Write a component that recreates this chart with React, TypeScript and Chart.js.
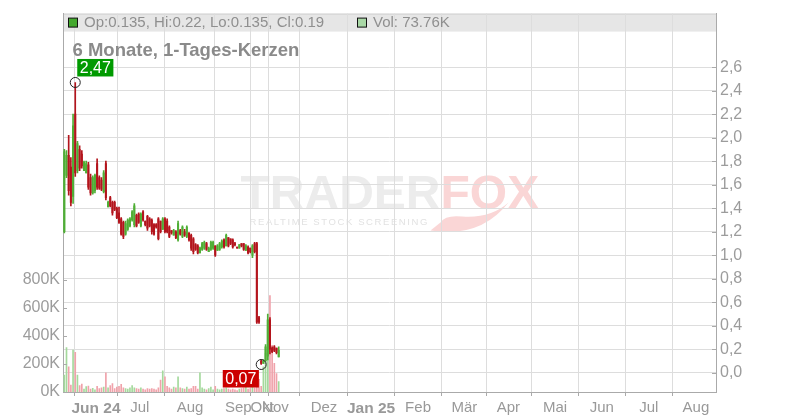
import React, { useEffect, useRef } from "react";
import { Chart, registerables } from "chart.js";

Chart.register(...registerables);

// ---- Data (trading-day index = position in arrays) ----
const OPEN = [
  1.20, 1.68, 1.85, 1.75, 1.50, 2.20, 1.72, 1.90, 1.86, 1.72,
  1.70, 1.77, 1.66, 1.53, 1.55, 1.78, 1.66, 1.64, 1.54, 1.78,
  1.41, 1.49, 1.45, 1.45, 1.40, 1.36, 1.31, 1.28, 1.18, 1.22,
  1.25, 1.30, 1.26, 1.34, 1.35, 1.25, 1.37, 1.29, 1.33, 1.31,
  1.30, 1.26, 1.26, 1.31, 1.29, 1.22, 1.31, 1.29, 1.24, 1.21,
  1.17, 1.20, 1.13, 1.21, 1.16, 1.20, 1.16, 1.19, 1.17, 1.14,
  1.09, 1.08, 1.02, 1.05, 1.06, 1.10, 1.03, 1.05, 1.06, 1.08,
  1.04, 1.05, 1.07, 1.13, 1.08, 1.15, 1.14, 1.13, 1.10, 1.07,
  1.06, 1.10, 1.10, 1.04, 1.07, 1.06, 1.00, 1.10, 1.10, 0.47,
  0.10, 0.08, 0.10, 0.14, 0.45, 0.21, 0.22, 0.21, 0.135,
];
const HIGH = [
  1.90, 1.89, 2.02, 1.83, 2.20, 2.47, 1.97, 1.93, 1.89, 1.80,
  1.80, 1.79, 1.69, 1.675, 1.69, 1.82, 1.675, 1.66, 1.72, 1.80,
  1.46, 1.50, 1.46, 1.46, 1.41, 1.41, 1.32, 1.29, 1.29, 1.31,
  1.32, 1.38, 1.44, 1.35, 1.36, 1.36, 1.38, 1.29, 1.34, 1.32,
  1.31, 1.27, 1.27, 1.32, 1.29, 1.32, 1.32, 1.31, 1.25, 1.21,
  1.22, 1.21, 1.29, 1.22, 1.25, 1.22, 1.25, 1.19, 1.18, 1.15,
  1.10, 1.09, 1.07, 1.11, 1.12, 1.11, 1.07, 1.12, 1.12, 1.08,
  1.09, 1.11, 1.13, 1.14, 1.18, 1.15, 1.14, 1.14, 1.11, 1.07,
  1.09, 1.10, 1.10, 1.09, 1.08, 1.06, 1.09, 1.11, 1.11, 0.48,
  0.11, 0.11, 0.24, 0.50, 0.47, 0.22, 0.23, 0.21, 0.22,
];
const LOW = [
  1.19, 1.66, 1.51, 1.42, 1.44, 1.67, 1.70, 1.72, 1.74, 1.72,
  1.70, 1.56, 1.51, 1.52, 1.53, 1.56, 1.56, 1.55, 1.53, 1.47,
  1.41, 1.41, 1.34, 1.38, 1.31, 1.27, 1.17, 1.14, 1.17, 1.21,
  1.24, 1.29, 1.24, 1.24, 1.27, 1.24, 1.29, 1.25, 1.21, 1.24,
  1.18, 1.17, 1.23, 1.13, 1.19, 1.22, 1.19, 1.19, 1.15, 1.18,
  1.17, 1.14, 1.12, 1.17, 1.15, 1.16, 1.15, 1.12, 1.04, 1.01,
  1.04, 1.01, 1.02, 1.04, 1.05, 1.04, 1.03, 1.04, 1.05, 0.99,
  1.04, 1.04, 1.06, 1.06, 1.08, 1.07, 1.09, 1.06, 1.08, 1.06,
  1.06, 1.07, 1.04, 1.04, 1.01, 1.02, 0.98, 1.02, 0.42, 0.42,
  0.07, 0.08, 0.10, 0.11, 0.16, 0.17, 0.18, 0.16, 0.135,
];
const CLOSE = [
  1.88, 1.85, 1.55, 1.45, 2.10, 1.70, 1.95, 1.74, 1.76, 1.79,
  1.78, 1.58, 1.53, 1.66, 1.68, 1.58, 1.57, 1.56, 1.70, 1.49,
  1.45, 1.42, 1.36, 1.39, 1.32, 1.28, 1.18, 1.16, 1.27, 1.30,
  1.31, 1.37, 1.42, 1.25, 1.28, 1.35, 1.30, 1.26, 1.23, 1.25,
  1.20, 1.18, 1.24, 1.14, 1.20, 1.31, 1.20, 1.20, 1.16, 1.19,
  1.21, 1.15, 1.27, 1.18, 1.24, 1.17, 1.24, 1.13, 1.06, 1.03,
  1.05, 1.02, 1.06, 1.10, 1.11, 1.05, 1.06, 1.11, 1.11, 1.00,
  1.08, 1.10, 1.12, 1.07, 1.17, 1.08, 1.10, 1.07, 1.09, 1.06,
  1.09, 1.08, 1.05, 1.08, 1.02, 1.03, 1.08, 1.03, 0.43, 0.43,
  0.08, 0.10, 0.22, 0.45, 0.20, 0.18, 0.19, 0.17, 0.19,
];
const VOLUME_K = [
  120, 316, 179, 50, 298, 283, 120, 45, 57, 20,
  38, 42, 20, 26, 15, 40, 25, 30, 35, 137,
  30, 45, 60, 25, 35, 40, 55, 30, 25, 20,
  30, 45, 30, 25, 20, 30, 20, 15, 25, 20,
  25, 20, 15, 30, 85, 151, 109, 40, 30, 20,
  35, 30, 109, 30, 25, 20, 35, 20, 25, 40,
  40, 20, 137, 30, 20, 15, 25, 35, 15, 40,
  20, 15, 20, 25, 30, 20, 15, 20, 15, 10,
  20, 25, 30, 40, 20, 25, 85, 30, 100, 90,
  40, 180, 276, 470, 687, 333, 205, 132, 73.76,
];

const MONTH_TICKS = [14.5, 34.5, 57.5, 79.5, 90.5, 96.5, 118.7, 140.2, 161.7, 182.9, 203.0, 224.3, 245.7, 267.2, 288.7];
const MONTH_LABELS = ["Jun 24", "Jul", "Aug", "Sep", "Okt", "Nov", "Dez", "Jan 25", "Feb", "Mär", "Apr", "Mai", "Jun", "Jul", "Aug"];
const PRICE_TICKS = [0, 0.2, 0.4, 0.6, 0.8, 1.0, 1.2, 1.4, 1.6, 1.8, 2.0, 2.2, 2.4, 2.6];
const VOLUME_TICKS = [0, 200, 400, 600, 800];

const X_MIN = -0.6;
const X_MAX = 297.9;
const PRICE_MIN = -0.164;
const PRICE_MAX = 3.056;
const VOL_MAX = 2697;

const HIGH_MARK = { index: 5, value: 2.47, label: "2,47" };
const LOW_MARK = { index: 90, value: 0.07, label: "0,07" };

const TITLE = "6 Monate, 1-Tages-Kerzen";
const LEGEND_OHLC = "Op:0.135, Hi:0.22, Lo:0.135, Cl:0.19";
const LEGEND_VOL = "Vol: 73.76K";

const FONT = "'Liberation Sans', Arial, Helvetica, sans-serif";
const UP = "#4fae35";
const DOWN = "#b3141c";
const VOL_UP = "#a4d99c";
const VOL_DOWN = "#f0a2aa";
const GRID = "#dddddd";
const AXIS = "#aaaaaa";
const TEXT = "#999999";

const isUp = (i: number) => CLOSE[i] >= OPEN[i];

const decorPlugin = {
  id: "decor",
  beforeDraw(chart: any) {
    const { ctx, chartArea: a } = chart;
    ctx.save();
    ctx.fillStyle = "#ffffff";
    ctx.fillRect(0, 0, chart.width, chart.height);

    // watermark
    const cx = (a.left + a.right) / 2;
    const wx = cx - 149;
    const wy = a.top + 195;
    ctx.font = `bold 48px ${FONT}`;
    ctx.textBaseline = "alphabetic";
    ctx.textAlign = "left";
    ctx.fillStyle = "#ececec";
    ctx.fillText("TRADER", wx, wy);
    const tw = ctx.measureText("TRADER").width;
    ctx.fillStyle = "#fad6d6";
    ctx.fillText("FOX", wx + tw, wy);
    // fox tail
    ctx.beginPath();
    ctx.moveTo(wx + 190, wy + 22);
    ctx.quadraticCurveTo(wx + 240, wy + 30, wx + 268, wy - 6);
    ctx.quadraticCurveTo(wx + 250, wy + 10, wx + 222, wy + 8);
    ctx.quadraticCurveTo(wx + 205, wy + 6, wx + 200, wy + 14);
    ctx.closePath();
    ctx.fill();
    ctx.font = `9.5px ${FONT}`;
    (ctx as any).letterSpacing = "1.6px";
    ctx.fillStyle = "#e2e2e2";
    ctx.fillText("REALTIME STOCK SCREENING", wx + 9, wy + 16.5);
    (ctx as any).letterSpacing = "0px";

    // legend bar
    ctx.fillStyle = "#e6e6e6";
    ctx.fillRect(a.left, a.top, a.right - a.left, 18);
    ctx.strokeStyle = "#d0d0d0";
    ctx.lineWidth = 1;
    ctx.beginPath();
    ctx.moveTo(a.left, a.top + 0.5);
    ctx.lineTo(a.right, a.top + 0.5);
    ctx.stroke();
    ctx.restore();
  },
  afterDatasetsDraw(chart: any) {
    const { ctx, chartArea: a, scales } = chart;
    const xs = scales.x;
    const ys = scales.y;
    const yv = scales.yv;
    ctx.save();

    // legend content and title (on top of grid)
    ctx.fillStyle = "#44a82e";
    ctx.fillRect(a.left + 5.5, a.top + 4.5, 9, 9);
    ctx.strokeStyle = "#111";
    ctx.lineWidth = 1;
    ctx.strokeRect(a.left + 5.5, a.top + 4.5, 9, 9);
    ctx.font = `15px ${FONT}`;
    ctx.fillStyle = "#8f8f8f";
    ctx.textBaseline = "middle";
    ctx.textAlign = "left";
    ctx.fillText(LEGEND_OHLC, a.left + 21, a.top + 9.5);

    ctx.fillStyle = "#a9d8a6";
    ctx.fillRect(a.left + 294.5, a.top + 4.5, 9, 9);
    ctx.strokeStyle = "#111";
    ctx.strokeRect(a.left + 294.5, a.top + 4.5, 9, 9);
    ctx.fillStyle = "#8f8f8f";
    ctx.fillText(LEGEND_VOL, a.left + 310, a.top + 9.5);

    ctx.font = `bold 18.5px ${FONT}`;
    ctx.fillStyle = "#8a8a8a";
    ctx.textBaseline = "alphabetic";
    ctx.fillText(TITLE, a.left + 9.5, a.top + 42.3);

    // inner tick marks
    ctx.strokeStyle = AXIS;
    ctx.lineWidth = 1;
    PRICE_TICKS.forEach((v) => {
      const py = Math.round(ys.getPixelForValue(v)) + 0.5;
      ctx.beginPath();
      ctx.moveTo(a.right - 4, py);
      ctx.lineTo(a.right, py);
      ctx.stroke();
    });
    VOLUME_TICKS.forEach((v) => {
      const py = Math.round(yv.getPixelForValue(v)) + 0.5;
      ctx.beginPath();
      ctx.moveTo(a.left, py);
      ctx.lineTo(a.left + 4, py);
      ctx.stroke();
    });

    const drawMark = (m: any, color: string, above: boolean) => {
      const px = xs.getPixelForValue(m.index);
      const py = ys.getPixelForValue(m.value);
      ctx.beginPath();
      ctx.arc(px, py, 5, 0, Math.PI * 2);
      ctx.strokeStyle = "#222";
      ctx.lineWidth = 1;
      ctx.stroke();
      ctx.font = `16px ${FONT}`;
      const w = ctx.measureText(m.label).width + 5;
      const h = 17.5;
      const bx = above ? px + 2 : px - 2.3 - w;
      const by = above ? py - 6 - h : py + 5.5;
      ctx.fillStyle = color;
      ctx.fillRect(bx, by, w, h);
      ctx.fillStyle = "#ffffff";
      ctx.textBaseline = "middle";
      ctx.textAlign = "center";
      ctx.fillText(m.label, bx + w / 2, by + h / 2 + 0.5);
    };
    drawMark(HIGH_MARK, "#009a00", true);
    drawMark(LOW_MARK, "#cc0000", false);
    ctx.restore();
  },
};

export default function App() {
  const ref = useRef<HTMLCanvasElement | null>(null);

  useEffect(() => {
    if (!ref.current) return;
    const idx = OPEN.map((_, i) => i);
    const chart = new Chart(ref.current, {
      type: "bar",
      data: {
        datasets: [
          {
            label: "body",
            data: idx.map((i) => ({ x: i, y: [OPEN[i], CLOSE[i]] })) as any,
            backgroundColor: idx.map((i) => (isUp(i) ? UP : DOWN)),
            barThickness: 1.4,
            grouped: false,
            borderWidth: 0,
            xAxisID: "x",
            yAxisID: "y",
            order: 0,
          },
          {
            label: "wick",
            data: idx.map((i) => ({ x: i, y: [LOW[i], HIGH[i]] })) as any,
            backgroundColor: idx.map((i) => (isUp(i) ? UP : DOWN)),
            barThickness: 1,
            grouped: false,
            borderWidth: 0,
            xAxisID: "x",
            yAxisID: "y",
            order: 1,
          },
          {
            label: "volume",
            data: idx.map((i) => ({ x: i, y: VOLUME_K[i] })) as any,
            backgroundColor: idx.map((i) => (isUp(i) ? VOL_UP : VOL_DOWN)),
            barThickness: 1,
            grouped: false,
            borderWidth: 0,
            xAxisID: "x",
            yAxisID: "yv",
            order: 2,
          },
        ],
      },
      options: {
        responsive: false,
        animation: false,
        devicePixelRatio: 1,
        layout: { padding: { top: 12, left: 0, right: 0, bottom: 0 } },
        plugins: { legend: { display: false }, tooltip: { enabled: false } },
        scales: {
          x: {
            type: "linear",
            position: "bottom",
            min: X_MIN,
            max: X_MAX,
            offset: false,
            afterBuildTicks: (s: any) => {
              s.ticks = MONTH_TICKS.map((v) => ({ value: v }));
            },
            afterFit: (s: any) => {
              s.height = 28;
            },
            ticks: {
              autoSkip: false,
              maxRotation: 0,
              minRotation: 0,
              padding: 3,
              color: TEXT,
              callback: (_v: any, i: number) => MONTH_LABELS[i],
              font: (c: any) =>
                /\d/.test(MONTH_LABELS[c.index] || "")
                  ? { family: FONT, size: 15.5, weight: "bold" }
                  : { family: FONT, size: 15, weight: "normal" },
            },
            grid: { color: GRID, tickLength: 4, tickColor: AXIS, drawTicks: true },
            border: { color: AXIS },
          },
          y: {
            type: "linear",
            position: "right",
            min: PRICE_MIN,
            max: PRICE_MAX,
            afterBuildTicks: (s: any) => {
              s.ticks = PRICE_TICKS.map((v) => ({ value: v }));
            },
            afterFit: (s: any) => {
              s.width = 84;
            },
            ticks: {
              padding: 4,
              color: "#9c9c9c",
              font: { family: FONT, size: 16 },
              callback: (v: any) => Number(v).toFixed(1).replace(".", ","),
            },
            grid: { color: GRID, drawTicks: false },
            border: { color: AXIS },
          },
          yv: {
            type: "linear",
            position: "left",
            min: 0,
            max: VOL_MAX,
            afterBuildTicks: (s: any) => {
              s.ticks = VOLUME_TICKS.map((v) => ({ value: v }));
            },
            afterFit: (s: any) => {
              s.width = 63;
            },
            ticks: {
              padding: 3,
              color: "#9c9c9c",
              font: { family: FONT, size: 16 },
              callback: (v: any) => `${v}K`,
            },
            grid: { display: false, drawTicks: false },
            border: { color: AXIS },
          },
        },
      },
      plugins: [decorPlugin],
    } as any);
    return () => chart.destroy();
  }, []);

  return (
    <div style={{ position: "fixed", left: 0, top: 0, width: 800, height: 420, background: "#fff" }}>
      <canvas ref={ref} width={800} height={420} style={{ display: "block", width: 800, height: 420 }} />
    </div>
  );
}
